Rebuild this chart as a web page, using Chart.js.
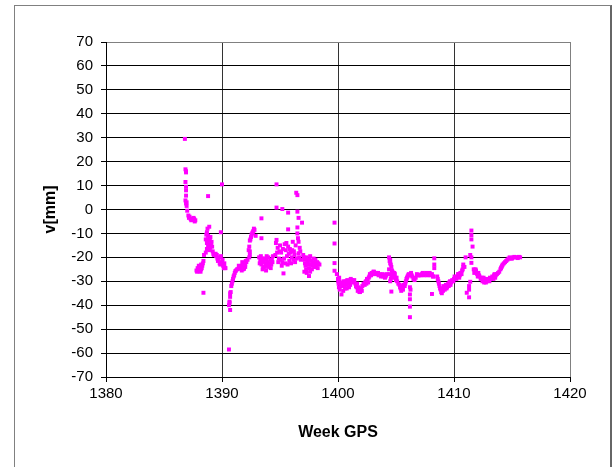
<!DOCTYPE html>
<html>
<head>
<meta charset="utf-8">
<script src="https://cdn.jsdelivr.net/npm/chart.js@4/dist/chart.umd.min.js"></script>
<style>
  html, body { margin: 0; padding: 0; background: #fff; overflow: hidden; }
  #wrap { position: relative; width: 613px; height: 467px; }
  #frame {
    position: absolute; left: 14px; top: 5px; width: 595px; height: 480px;
    border: 1px solid #808080; border-right: 2px solid #666;
    pointer-events: none;
  }
  canvas { position: absolute; left: 0; top: 0; }
</style>
</head>
<body>
<div id="wrap">
  <canvas id="vChart" width="613" height="467"></canvas>
  <div id="frame"></div>
</div>
<script>
// GPS week of each daily solution
const weeks = [
  1386.8, 1386.85, 1386.9, 1386.85, 1386.9, 1386.9, 1386.85, 1386.9, 1386.95, 1387.0, 1387.1, 1387.15, 1387.3, 1387.4, 1387.5, 1387.6, 1387.7,
  1387.2, 1387.35, 1387.55, 1387.65, 1386.9, 1386.95, 1386.9,
  1387.8, 1387.9, 1388.0, 1388.1, 1388.2, 1388.3, 1388.4, 1388.45, 1388.4,
  1387.85, 1387.95, 1388.05, 1388.15, 1388.25, 1388.35, 1388.0, 1388.2,
  1388.8, 1388.9, 1388.7, 1388.8, 1388.6, 1388.9, 1389.0, 1388.7, 1389.1, 1388.8, 1389.0, 1388.6, 1389.2, 1389.3,
  1388.65, 1388.75, 1388.85, 1388.95, 1389.05, 1388.7, 1388.9, 1389.15, 1389.25, 1388.75,
  1389.5, 1389.6, 1389.7, 1389.8, 1389.9, 1389.9, 1390.0, 1390.0, 1390.1, 1390.2, 1390.25,
  1389.45, 1389.55, 1389.65, 1389.75, 1389.85, 1389.95, 1390.05, 1390.15, 1390.2, 1390.3,
  1390.6, 1390.6, 1390.65, 1390.7, 1390.75, 1390.8, 1390.9, 1391.0, 1391.1, 1391.2, 1391.4, 1391.5, 1391.7, 1391.8, 1392.0, 1392.1, 1392.2, 1391.8, 1392.0, 1390.7,
  1390.65, 1390.7, 1390.85, 1390.95, 1391.05, 1391.15, 1391.3, 1391.45, 1391.6, 1391.75, 1391.9, 1392.05, 1391.7, 1391.9,
  1392.3, 1392.35, 1392.4, 1392.4, 1392.5, 1392.6, 1392.7, 1392.8, 1392.9,
  1392.45, 1392.55, 1392.65, 1392.75, 1392.4, 1392.35,
  1393.4, 1393.4, 1393.2, 1393.3, 1393.4, 1393.5, 1393.6, 1393.7, 1393.8, 1393.9, 1394.0, 1394.1, 1394.2, 1394.3, 1394.4,
  1393.25, 1393.35, 1393.45, 1393.55, 1393.65, 1393.75, 1393.85, 1393.95, 1394.05, 1394.15, 1394.25, 1394.35, 1393.5, 1393.8,
  1394.7, 1394.7, 1395.2, 1395.7, 1396.4, 1396.5, 1396.5, 1396.6, 1396.9, 1395.7, 1394.7, 1394.8, 1394.6, 1394.9, 1395.0, 1395.1,
  1395.2, 1395.3, 1395.4, 1395.5, 1395.6, 1395.7, 1395.8, 1395.9, 1396.0, 1396.1, 1396.2, 1396.3, 1396.5, 1396.6, 1396.7, 1396.6,
  1394.65, 1394.75, 1394.85, 1394.95, 1395.05, 1395.15, 1395.25, 1395.35, 1395.45, 1395.55, 1395.65, 1395.75,
  1395.85, 1395.95, 1396.05, 1396.15, 1396.25, 1396.35, 1396.45, 1396.55, 1396.65, 1396.75, 1396.8, 1396.5,
  1397.0, 1397.1, 1397.2, 1397.1, 1397.3, 1397.4, 1397.5, 1397.5, 1397.6, 1397.7, 1397.8, 1397.9, 1398.0, 1398.1, 1398.2, 1398.4,
  1397.05, 1397.15, 1397.25, 1397.35, 1397.45, 1397.55, 1397.65, 1397.75, 1397.85, 1397.95, 1398.05, 1398.15, 1398.25, 1398.3, 1397.3, 1397.6,
  1399.7, 1399.7, 1399.7, 1399.7,
  1399.9, 1400.0, 1400.05, 1400.1, 1400.15, 1400.2, 1400.3, 1400.35, 1400.5, 1400.6, 1400.7, 1400.8, 1400.9, 1401.0, 1401.1, 1401.3,
  1401.5, 1401.6, 1401.7, 1401.8, 1401.9, 1402.0, 1402.1, 1402.3, 1402.4, 1402.5, 1402.6, 1402.7,
  1400.02, 1400.08, 1400.12, 1400.25, 1400.4, 1400.45, 1400.55, 1400.65, 1400.75, 1400.85, 1400.95, 1401.05, 1401.2,
  1401.4, 1401.55, 1401.65, 1401.75, 1401.85, 1401.95, 1402.05, 1402.2, 1402.35, 1402.45, 1402.55, 1402.65, 1402.75,
  1402.9, 1403.0, 1403.1, 1403.3, 1403.4, 1403.5, 1403.6, 1403.8, 1403.9, 1404.0, 1404.1,
  1402.85, 1403.05, 1403.2, 1403.45, 1403.7, 1403.85, 1404.05, 1404.15, 1404.2,
  1404.4, 1404.5, 1404.5, 1404.6, 1404.4, 1404.7, 1404.6, 1404.8, 1404.5, 1404.6, 1404.9, 1405.0,
  1404.45, 1404.55, 1404.45, 1404.65, 1404.75, 1404.85, 1404.95, 1404.55,
  1405.1, 1405.3, 1405.4, 1405.5, 1405.6, 1405.8, 1405.9, 1406.0, 1406.1, 1406.2, 1406.2, 1406.2, 1406.2, 1406.2, 1406.3, 1406.4, 1406.6, 1406.8,
  1405.05, 1405.2, 1405.35, 1405.45, 1405.55, 1405.65, 1405.75, 1405.85, 1405.95, 1406.05, 1406.35, 1406.5, 1406.7, 1406.9, 1406.25,
  1407.0, 1407.2, 1407.4, 1407.6, 1407.8, 1408.0, 1408.2,
  1407.1, 1407.3, 1407.5, 1407.7, 1407.9, 1408.1,
  1408.3, 1408.3, 1408.3, 1408.1, 1408.2,
  1408.6, 1408.7, 1408.8, 1408.9, 1409.0, 1409.1, 1409.2, 1409.3, 1409.4, 1409.5, 1409.6, 1409.7, 1409.8,
  1408.55, 1408.65, 1408.75, 1408.85, 1408.95, 1409.05, 1409.15, 1409.25, 1409.35, 1409.45, 1409.55, 1409.65, 1409.75, 1409.85, 1409.95,
  1410.0, 1410.1, 1410.3, 1410.4, 1410.5, 1410.6, 1410.7, 1410.8, 1410.8, 1411.0,
  1410.05, 1410.2, 1410.35, 1410.45, 1410.55, 1410.65, 1410.75, 1410.9,
  1411.5, 1411.5, 1411.5, 1411.6, 1411.4, 1411.5, 1411.5, 1411.4, 1411.3, 1411.3, 1411.1, 1411.3,
  1411.7, 1411.8, 1411.9, 1412.0, 1412.1, 1412.2, 1412.4, 1412.5, 1412.6, 1412.7, 1412.8, 1413.0, 1413.1, 1413.3, 1413.4,
  1413.5, 1413.6, 1413.8, 1414.0, 1414.1, 1414.2, 1414.4, 1414.6, 1414.7, 1414.9, 1415.1, 1415.3, 1415.5, 1415.7,
  1411.75, 1411.85, 1411.95, 1412.05, 1412.15, 1412.3, 1412.45, 1412.55, 1412.65, 1412.75, 1412.9, 1413.05, 1413.2, 1413.35,
  1413.45, 1413.55, 1413.7, 1413.9, 1414.05, 1414.15, 1414.3, 1414.5, 1414.8, 1415.0, 1415.2, 1415.4, 1415.6
];

// vertical residual v [mm]
const vMm = [
  29.5, 16.8, 15.5, 11.5, 8.0, 5.8, 3.8, 2.5, 1.5, -0.5, -2.5, -3.5, -4.0, -3.8, -4.3, -4.0, -4.5,
  -3.0, -4.5, -3.5, -5.0, 16.0, 3.0, 9.5,
  -25.5, -24.5, -25.8, -24.0, -25.0, -23.5, -21.5, -19.0, -34.8,
  -26.0, -25.0, -24.5, -26.0, -24.5, -22.5, -23.5, -23.0,
  5.6, -7.2, -9.5, -11.0, -12.5, -13.0, -11.5, -14.0, -13.5, -15.5, -16.0, -18.0, -17.5, -19.0,
  -10.5, -12.5, -14.5, -12.0, -14.5, -16.5, -17.0, -15.5, -18.5, -8.0,
  -19.5, -20.5, -21.0, -22.5, -9.5, -19.5, 10.5, -22.0, -23.5, -24.0, -24.5,
  -18.5, -19.0, -21.5, -20.0, -23.0, -22.5, -21.0, -24.5, -22.5, -24.5,
  -58.5, -40.0, -38.5, -36.5, -34.5, -32.0, -30.0, -28.0, -26.5, -25.5, -24.8, -24.0, -23.5, -22.5, -23.0, -22.0, -21.0, -25.0, -24.0, -42.0,
  -39.0, -35.0, -31.0, -29.0, -27.5, -25.8, -25.0, -23.5, -24.5, -22.0, -23.5, -21.5, -25.5, -24.8,
  -17.0, -15.5, -19.0, -13.0, -11.5, -10.0, -9.0, -8.5, -11.0,
  -12.5, -10.5, -9.5, -8.0, -17.5, -20.0,
  -3.7, -12.0, -20.0, -21.5, -23.0, -20.5, -22.0, -24.0, -21.0, -23.5, -20.0, -22.5, -24.5, -21.0, -19.5,
  -22.5, -19.5, -21.5, -24.0, -20.5, -22.5, -19.5, -22.0, -24.0, -21.0, -23.0, -22.0, -25.0, -25.5,
  10.5, 0.8, 0.2, -1.3, 7.0, 6.0, -0.9, -3.5, -5.5, -8.3, -12.7, -16.0, -19.0, -20.5, -15.0, -18.0,
  -22.0, -26.7, -14.5, -17.0, -19.5, -15.5, -21.5, -18.0, -20.0, -13.5, -17.5, -22.0, -10.0, -13.5, -16.0, -18.3,
  -14.0, -18.0, -22.0, -17.5, -21.0, -23.5, -16.5, -20.5, -22.5, -14.0, -23.0, -18.5,
  -16.5, -22.5, -17.0, -21.0, -19.0, -15.0, -20.5, -12.0, -20.0, -17.5, -21.0, -7.5,
  -19.0, -21.0, -23.5, -26.0, -20.0, -22.0, -27.8, -24.5, -19.5, -21.5, -23.5, -20.5, -22.5, -24.0, -22.0, -23.0,
  -20.0, -22.5, -25.0, -21.0, -23.0, -21.0, -23.0, -25.0, -22.0, -24.0, -21.0, -23.0, -24.5, -22.5, -26.5, -26.0,
  -5.5, -14.2, -22.4, -25.6,
  -27.0, -29.0, -31.0, -28.5, -33.5, -30.5, -35.5, -32.0, -30.0, -33.0, -31.5, -29.5, -31.0, -30.0, -29.0, -30.5,
  -31.0, -32.5, -34.0, -33.0, -34.5, -33.5, -32.0, -31.5, -30.0, -29.0, -30.5, -28.0,
  -30.0, -32.5, -30.0, -32.0, -31.5, -34.0, -31.5, -30.0, -33.0, -30.5, -32.5, -31.5, -29.5,
  -29.5, -32.0, -31.0, -32.5, -34.5, -33.0, -34.0, -31.0, -30.5, -31.0, -29.5, -28.5, -27.0,
  -26.5, -27.0, -26.0, -26.5, -27.0, -27.5, -27.0, -27.5, -28.0, -27.5, -28.0,
  -27.5, -26.0, -27.0, -26.5, -28.0, -27.0, -28.5, -27.5, -27.0,
  -20.0, -21.0, -22.5, -24.0, -25.0, -26.0, -27.5, -28.5, -30.0, -34.3, -27.0, -29.5,
  -21.5, -23.0, -27.0, -25.5, -27.0, -26.5, -28.5, -29.0,
  -30.0, -31.5, -33.0, -32.0, -33.5, -31.0, -29.0, -28.0, -27.0, -32.5, -35.5, -37.5, -40.6, -45.0, -26.5, -28.0, -29.5, -27.0,
  -28.5, -31.0, -32.5, -34.0, -33.0, -31.5, -32.0, -30.0, -28.5, -27.5, -27.5, -29.0, -28.5, -27.5, -33.5,
  -27.5, -27.0, -27.5, -26.5, -27.0, -27.5, -28.0,
  -27.5, -26.5, -27.0, -27.5, -26.5, -27.0,
  -20.4, -23.0, -24.5, -35.3, -28.0,
  -29.0, -31.0, -33.0, -34.5, -33.0, -32.0, -33.5, -31.5, -32.5, -31.0, -30.5, -31.5, -30.0,
  -28.0, -30.0, -32.0, -33.5, -35.0, -34.0, -33.0, -32.5, -33.0, -31.5, -32.0, -30.0, -30.5, -29.5, -30.0,
  -29.0, -28.5, -28.0, -27.0, -27.5, -26.5, -25.5, -24.0, -23.0, -20.0,
  -28.0, -29.0, -27.0, -28.5, -26.5, -27.0, -25.0, -24.0,
  -8.8, -10.7, -12.5, -15.5, -19.0, -20.0, -22.3, -30.2, -32.0, -33.5, -34.8, -36.7,
  -25.0, -26.0, -25.5, -27.0, -26.5, -28.0, -28.5, -29.5, -30.5, -29.0, -30.0, -29.0, -28.5, -28.0, -29.0,
  -27.0, -27.5, -26.5, -25.0, -24.0, -23.0, -22.0, -21.0, -20.5, -20.5, -20.0, -20.0, -20.3, -20.0,
  -26.5, -25.0, -26.5, -28.0, -27.5, -29.0, -30.0, -28.5, -29.5, -30.5, -29.5, -30.0, -29.0, -28.5,
  -27.5, -28.5, -27.0, -26.0, -24.5, -23.5, -22.5, -21.5, -20.0, -20.5, -19.8, -20.0, -19.8
];

const weekTicks = [1380, 1390, 1400, 1410, 1420];
const vTicks = [-70, -60, -50, -40, -30, -20, -10, 0, 10, 20, 30, 40, 50, 60, 70];

const points = weeks.map((w, i) => ({ x: w, y: vMm[i] }));

Chart.defaults.font.family = "'Liberation Sans', Arial, sans-serif";
Chart.defaults.color = "#000";

new Chart(document.getElementById("vChart"), {
  type: "scatter",
  data: {
    datasets: [{
      data: points,
      backgroundColor: "#ff00ff",
      borderWidth: 0,
      pointStyle: "rect",
      pointRadius: 2.8,
      pointHoverRadius: 2.8
    }]
  },
  options: {
    responsive: false,
    animation: false,
    events: [],
    layout: { padding: { left: 0, top: 42, right: 43, bottom: 0 } },
    plugins: { legend: { display: false }, tooltip: { enabled: false } },
    scales: {
      x: {
        type: "linear",
        min: 1380,
        max: 1420,
        afterBuildTicks: s => { s.ticks = weekTicks.map(v => ({ value: v })); },
        afterFit: s => { s.height = 90; },
        ticks: { font: { size: 15 }, padding: 3, maxRotation: 0, callback: v => String(v) },
        grid: {
          color: c => (c.tick && c.tick.value === 1420 ? "#808080" : "#333"),
          tickColor: "#000",
          tickLength: 5
        },
        border: { color: "#000" },
        title: {
          display: true,
          text: "Week GPS",
          font: { size: 16, weight: "bold" },
          padding: { top: 0, bottom: 25 }
        }
      },
      y: {
        type: "linear",
        min: -70,
        max: 70,
        afterBuildTicks: s => { s.ticks = vTicks.map(v => ({ value: v })); },
        afterFit: s => { s.width = 106; },
        ticks: { font: { size: 15 }, padding: 8 },
        grid: {
          color: c => (c.tick && c.tick.value === 70 ? "#808080" : "#000"),
          tickColor: "#000",
          tickLength: 5
        },
        border: { color: "#000" },
        title: {
          display: true,
          text: "v[mm]",
          font: { size: 16, weight: "bold" },
          padding: { top: 41, bottom: 0 }
        }
      }
    }
  }
});
</script>
</body>
</html>
